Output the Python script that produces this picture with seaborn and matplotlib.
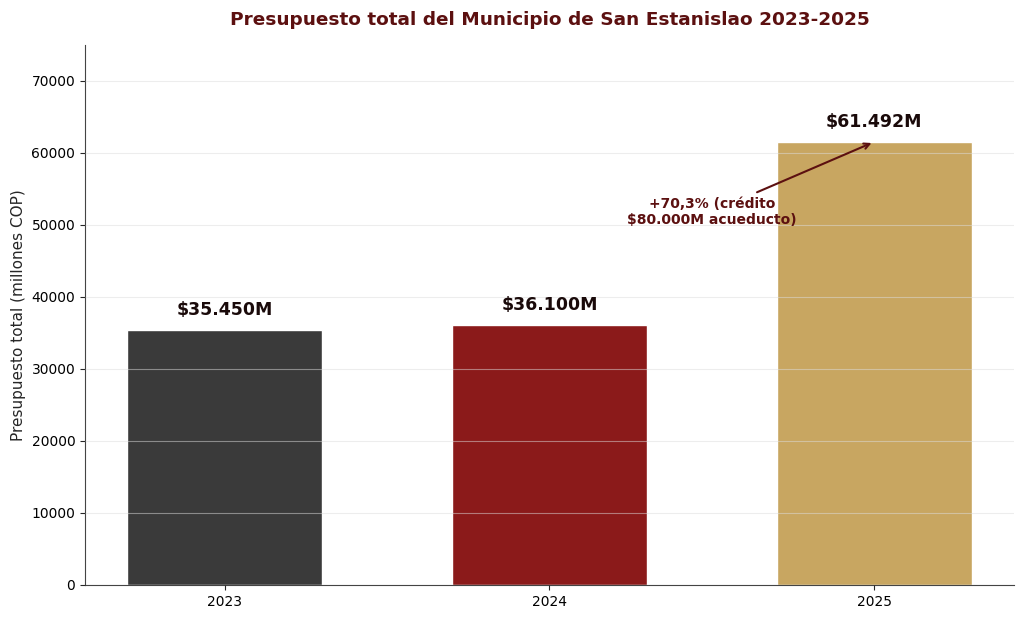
import numpy as np
import pandas as pd
import matplotlib.pyplot as plt
import seaborn as sns

# datos del presupuesto (millones COP)
years = ['2023', '2024', '2025']
budget = [35450, 36100, 61492]
labels = ['$35.450M', '$36.100M', '$61.492M']
colors = ['#3a3a3a', '#8b1a1a', '#c8a661']

df = pd.DataFrame({'Year': years, 'Budget': budget})

sns.set_style('ticks')
plt.rcParams['font.family'] = ['DejaVu Sans']

fig, ax = plt.subplots(figsize=(10.24, 6.19), dpi=100)
sns.barplot(x='Year', y='Budget', hue='Year', data=df, palette=colors,
	saturation=1, width=0.6, legend=False, edgecolor='white', linewidth=1, ax=ax)

ax.grid(axis='y', color='#dddddd', alpha=0.5, linewidth=0.8)
ax.set_axisbelow(False)

for i, v in enumerate(budget):
	ax.text(i, v + 1500, labels[i], ha='center', va='bottom',
		fontsize=12.5, fontweight='bold', color='#1a0a0a')

ax.annotate('+70,3% (crédito\n$80.000M acueducto)', xy=(2, budget[2]),
	xytext=(1.5, 51800), ha='center', va='center',
	fontsize=10, fontweight='bold', color='#5c1010',
	arrowprops=dict(arrowstyle='->', color='#5c1010', lw=1.5))

ax.set_xlim(-0.43, 2.43)
ax.set_ylim(0, 75000)
ax.set_xlabel('')
ax.set_ylabel('Presupuesto total (millones COP)', fontsize=11)
ax.set_title('Presupuesto total del Municipio de San Estanislao 2023-2025',
	fontsize=13.3, fontweight='bold', color='#5c1010', pad=14)
ax.tick_params(labelsize=10, labelcolor='black')
sns.despine(ax=ax)
ax.spines['left'].set_color('#444444')
ax.spines['bottom'].set_color('#444444')

plt.subplots_adjust(left=0.083, right=0.99, top=0.928, bottom=0.055)
plt.savefig('out.png', dpi=100)
